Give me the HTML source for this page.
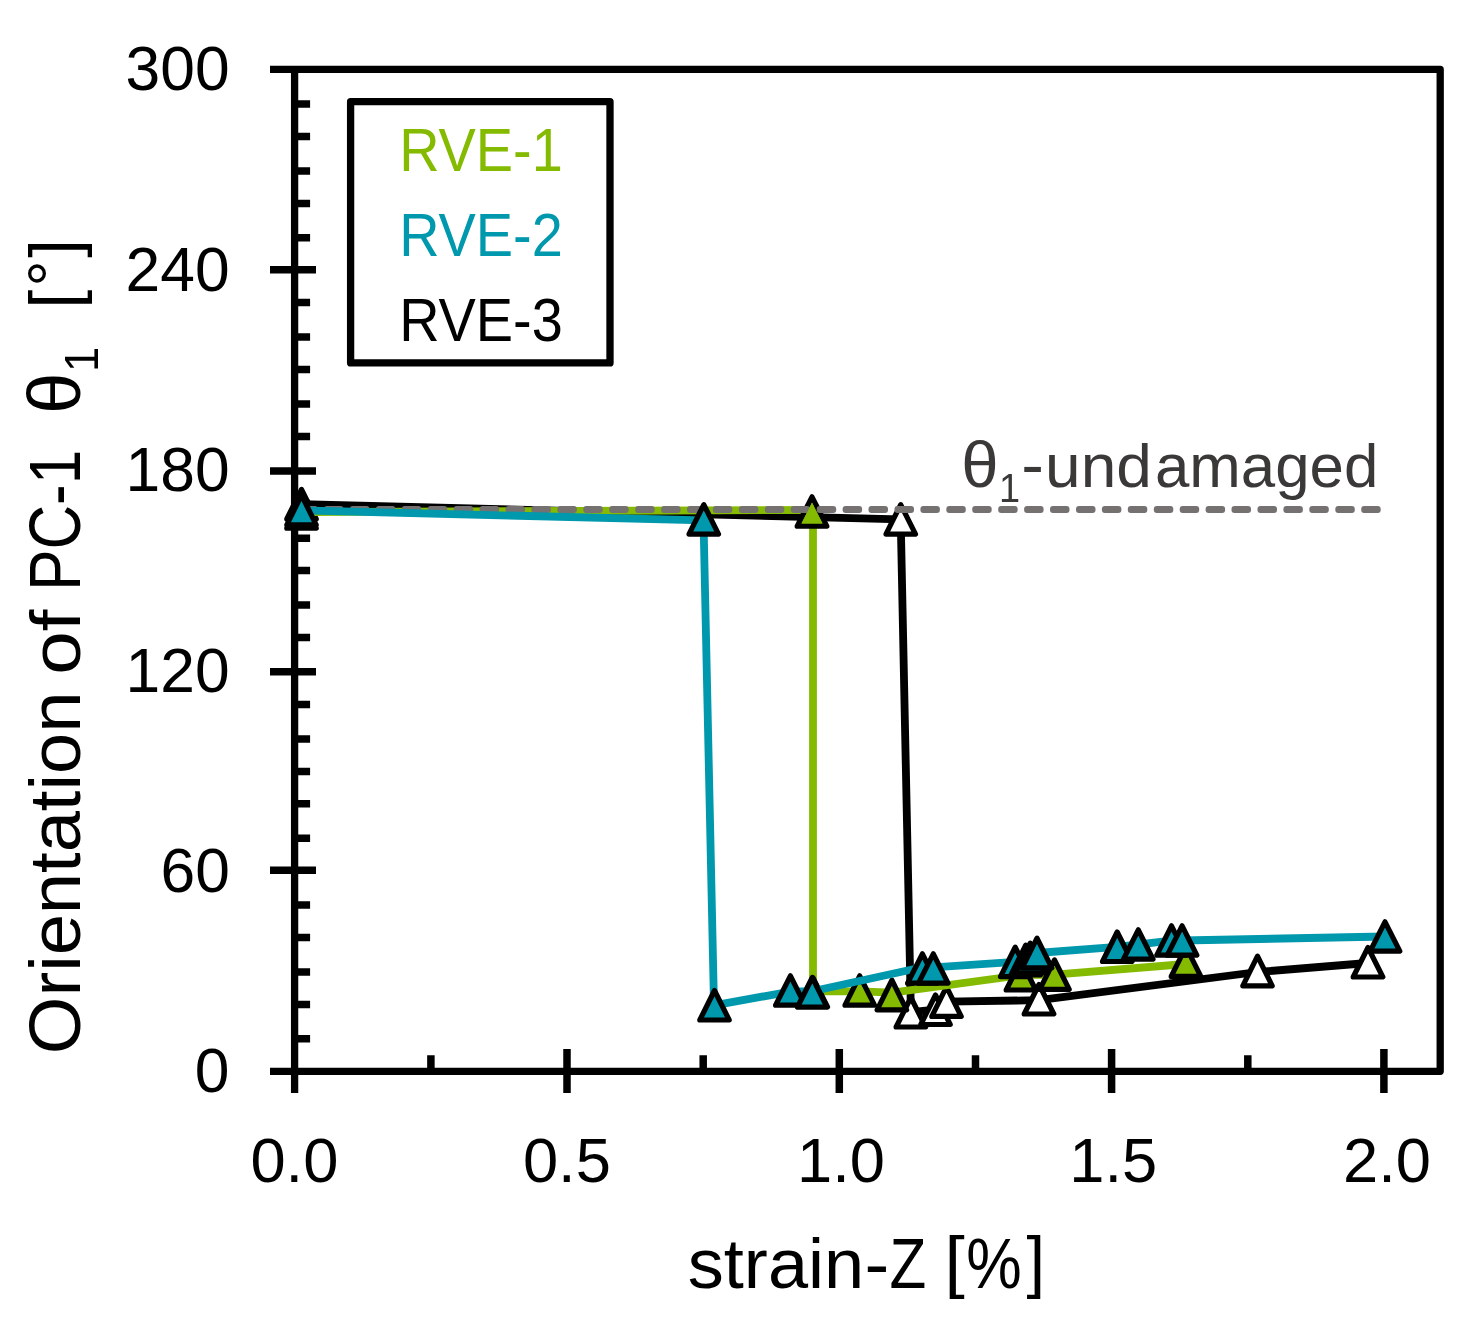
<!DOCTYPE html>
<html lang="en"><head><meta charset="utf-8"><title>Orientation of PC-1 vs strain-Z</title>
<style>html,body{margin:0;padding:0;background:#fff}svg{display:block}</style></head>
<body>
<svg width="1472" height="1323" viewBox="0 0 1472 1323" font-family='"Liberation Sans", sans-serif'>
<rect width="1472" height="1323" fill="#fff"/>
<path d="M270 69.4H1440.2V1071.3H270" fill="none" stroke="#000" stroke-width="7.3" stroke-linejoin="round"/>
<path d="M294.6 66V1093" fill="none" stroke="#000" stroke-width="7.3"/>
<path d="M294.7 1038.8H310.1M294.7 1004.4H310.1M294.7 971.9H310.1M294.7 937.6H310.1M294.7 904.9H310.1M270 870.3H316M294.7 838.3H310.1M294.7 803.8H310.1M294.7 771.4H310.1M294.7 738.9H310.1M294.7 704.5H310.1M270 671.8H316M294.7 637.4H310.1M294.7 605.0H310.1M294.7 570.5H310.1M294.7 538.3H310.1M294.7 503.5H310.1M270 470.9H316M294.7 436.4H310.1M294.7 403.9H310.1M294.7 369.4H310.1M294.7 336.9H310.1M294.7 302.5H310.1M270 269.8H316M294.7 237.7H310.1M294.7 203.5H310.1M294.7 170.9H310.1M294.7 136.5H310.1M294.7 103.9H310.1M430.9 1055.2V1071.4M567.0 1049V1093M703.2 1055.2V1071.4M839.3 1049V1093M975.5 1055.2V1071.4M1111.6 1049V1093M1247.8 1055.2V1071.4M1383.9 1049V1093" fill="none" stroke="#000" stroke-width="7.5"/>
<rect x="350.6" y="101.6" width="259.4" height="261.3" fill="#fff" stroke="#000" stroke-width="7.3" stroke-linejoin="round"/>
<path d="M301.5 504.1L900.7 519.4L910.9 1012.2L935.5 1009.7L946.5 1001.6L1039.0 1000.2L1257.5 972.0L1368.0 963.0" fill="none" stroke="#000" stroke-width="7.8" stroke-linejoin="round" stroke-linecap="round"/>
<path d="M301.5 489.4L316.2 518.9H286.8Z" fill="#fff" stroke="#000" stroke-width="5.2" stroke-linejoin="round"/>
<path d="M900.7 504.6L915.5 534.1H886.0Z" fill="#fff" stroke="#000" stroke-width="5.2" stroke-linejoin="round"/>
<path d="M910.9 997.5L925.6 1027.0H896.1Z" fill="#fff" stroke="#000" stroke-width="5.2" stroke-linejoin="round"/>
<path d="M935.5 995.0L950.2 1024.5H920.8Z" fill="#fff" stroke="#000" stroke-width="5.2" stroke-linejoin="round"/>
<path d="M946.5 986.9L961.2 1016.4H931.8Z" fill="#fff" stroke="#000" stroke-width="5.2" stroke-linejoin="round"/>
<path d="M1039.0 984.5L1053.8 1014.0H1024.2Z" fill="#fff" stroke="#000" stroke-width="5.2" stroke-linejoin="round"/>
<path d="M1257.5 956.2L1272.2 985.8H1242.8Z" fill="#fff" stroke="#000" stroke-width="5.2" stroke-linejoin="round"/>
<path d="M1368.0 947.5L1382.8 977.0H1353.2Z" fill="#fff" stroke="#000" stroke-width="5.2" stroke-linejoin="round"/>
<path d="M301.5 512.2L813.0 509.8L813.0 991.4L859.7 991.4L892.3 992.6L1021.0 975.2L1054.5 974.6L1186.0 964.0" fill="none" stroke="#84BB00" stroke-width="7.8" stroke-linejoin="round" stroke-linecap="round"/>
<path d="M301.5 498.8L316.2 528.2H286.8Z" fill="#84BB00" stroke="#000" stroke-width="5.2" stroke-linejoin="round"/>
<path d="M812.0 496.8L826.8 526.2H797.2Z" fill="#84BB00" stroke="#000" stroke-width="5.2" stroke-linejoin="round"/>
<path d="M812.8 977.5L827.5 1007.0H798.0Z" fill="#84BB00" stroke="#000" stroke-width="5.2" stroke-linejoin="round"/>
<path d="M859.7 975.8L874.5 1005.2H845.0Z" fill="#84BB00" stroke="#000" stroke-width="5.2" stroke-linejoin="round"/>
<path d="M891.9 980.2L906.6 1009.8H877.1Z" fill="#84BB00" stroke="#000" stroke-width="5.2" stroke-linejoin="round"/>
<path d="M1021.0 960.5L1035.8 990.0H1006.2Z" fill="#84BB00" stroke="#000" stroke-width="5.2" stroke-linejoin="round"/>
<path d="M1054.5 959.9L1069.2 989.4H1039.8Z" fill="#84BB00" stroke="#000" stroke-width="5.2" stroke-linejoin="round"/>
<path d="M1186.0 946.9L1200.8 976.4H1171.2Z" fill="#84BB00" stroke="#000" stroke-width="5.2" stroke-linejoin="round"/>
<rect x="298.1" y="506.0" width="19.5" height="7" rx="3" fill="#767171"/><rect x="324.0" y="506.0" width="19.5" height="7" rx="3" fill="#767171"/><rect x="349.9" y="506.0" width="19.5" height="7" rx="3" fill="#767171"/><rect x="375.9" y="506.0" width="19.5" height="7" rx="3" fill="#767171"/><rect x="401.8" y="506.0" width="19.5" height="7" rx="3" fill="#767171"/><rect x="427.7" y="506.0" width="19.5" height="7" rx="3" fill="#767171"/><rect x="453.7" y="506.0" width="19.5" height="7" rx="3" fill="#767171"/><rect x="479.6" y="506.0" width="19.5" height="7" rx="3" fill="#767171"/><rect x="505.5" y="506.0" width="19.5" height="7" rx="3" fill="#767171"/><rect x="531.4" y="506.0" width="19.5" height="7" rx="3" fill="#767171"/><rect x="557.4" y="506.0" width="19.5" height="7" rx="3" fill="#767171"/><rect x="583.3" y="506.0" width="19.5" height="7" rx="3" fill="#767171"/><rect x="609.2" y="506.0" width="19.5" height="7" rx="3" fill="#767171"/><rect x="635.2" y="506.0" width="19.5" height="7" rx="3" fill="#767171"/><rect x="661.1" y="506.0" width="19.5" height="7" rx="3" fill="#767171"/><rect x="687.0" y="506.0" width="19.5" height="7" rx="3" fill="#767171"/><rect x="712.9" y="506.0" width="19.5" height="7" rx="3" fill="#767171"/><rect x="738.9" y="506.0" width="19.5" height="7" rx="3" fill="#767171"/><rect x="764.8" y="506.0" width="19.5" height="7" rx="3" fill="#767171"/><rect x="790.7" y="506.0" width="19.5" height="7" rx="3" fill="#767171"/><rect x="816.7" y="506.0" width="19.5" height="7" rx="3" fill="#767171"/><rect x="842.6" y="506.0" width="19.5" height="7" rx="3" fill="#767171"/><rect x="868.5" y="506.0" width="19.5" height="7" rx="3" fill="#767171"/><rect x="894.5" y="506.0" width="19.5" height="7" rx="3" fill="#767171"/><rect x="920.4" y="506.0" width="19.5" height="7" rx="3" fill="#767171"/><rect x="946.3" y="506.0" width="19.5" height="7" rx="3" fill="#767171"/><rect x="972.2" y="506.0" width="19.5" height="7" rx="3" fill="#767171"/><rect x="998.2" y="506.0" width="19.5" height="7" rx="3" fill="#767171"/><rect x="1024.1" y="506.0" width="19.5" height="7" rx="3" fill="#767171"/><rect x="1050.0" y="506.0" width="19.5" height="7" rx="3" fill="#767171"/><rect x="1076.0" y="506.0" width="19.5" height="7" rx="3" fill="#767171"/><rect x="1101.9" y="506.0" width="19.5" height="7" rx="3" fill="#767171"/><rect x="1127.8" y="506.0" width="19.5" height="7" rx="3" fill="#767171"/><rect x="1153.8" y="506.0" width="19.5" height="7" rx="3" fill="#767171"/><rect x="1179.7" y="506.0" width="19.5" height="7" rx="3" fill="#767171"/><rect x="1205.6" y="506.0" width="19.5" height="7" rx="3" fill="#767171"/><rect x="1231.5" y="506.0" width="19.5" height="7" rx="3" fill="#767171"/><rect x="1257.5" y="506.0" width="19.5" height="7" rx="3" fill="#767171"/><rect x="1283.4" y="506.0" width="19.5" height="7" rx="3" fill="#767171"/><rect x="1309.3" y="506.0" width="19.5" height="7" rx="3" fill="#767171"/><rect x="1335.3" y="506.0" width="19.5" height="7" rx="3" fill="#767171"/><rect x="1361.2" y="506.0" width="19.5" height="7" rx="3" fill="#767171"/>
<path d="M812.0 502.6L822.5 523.6H801.5Z" fill="#84BB00"/>
<path d="M301.5 510.3L703.5 520.4L714.0 1005.3L790.4 991.6L812.3 991.2L922.4 967.3L933.3 967.3L1015.2 961.9L1025.7 960.0L1030.2 958.0L1037.0 953.0L1117.2 946.8L1138.3 944.5L1171.5 940.5L1182.1 940.5L1385.0 936.5" fill="none" stroke="#0098AD" stroke-width="7.8" stroke-linejoin="round" stroke-linecap="round"/>
<path d="M301.5 495.2L316.2 524.8H286.8Z" fill="#0098AD" stroke="#000" stroke-width="5.2" stroke-linejoin="round"/>
<path d="M703.8 504.6L718.5 534.1H689.0Z" fill="#0098AD" stroke="#000" stroke-width="5.2" stroke-linejoin="round"/>
<path d="M714.5 990.5L729.2 1020.0H699.8Z" fill="#0098AD" stroke="#000" stroke-width="5.2" stroke-linejoin="round"/>
<path d="M790.4 975.8L805.1 1005.2H775.6Z" fill="#0098AD" stroke="#000" stroke-width="5.2" stroke-linejoin="round"/>
<path d="M812.3 977.5L827.0 1007.0H797.5Z" fill="#0098AD" stroke="#000" stroke-width="5.2" stroke-linejoin="round"/>
<path d="M922.4 953.8L937.1 983.2H907.6Z" fill="#0098AD" stroke="#000" stroke-width="5.2" stroke-linejoin="round"/>
<path d="M933.3 953.8L948.0 983.2H918.5Z" fill="#0098AD" stroke="#000" stroke-width="5.2" stroke-linejoin="round"/>
<path d="M1015.2 947.1L1030.0 976.6H1000.5Z" fill="#0098AD" stroke="#000" stroke-width="5.2" stroke-linejoin="round"/>
<path d="M1025.7 945.2L1040.5 974.8H1011.0Z" fill="#0098AD" stroke="#000" stroke-width="5.2" stroke-linejoin="round"/>
<path d="M1030.2 943.2L1045.0 972.8H1015.5Z" fill="#0098AD" stroke="#000" stroke-width="5.2" stroke-linejoin="round"/>
<path d="M1037.0 938.2L1051.8 967.8H1022.2Z" fill="#0098AD" stroke="#000" stroke-width="5.2" stroke-linejoin="round"/>
<path d="M1117.2 932.0L1132.0 961.5H1102.5Z" fill="#0098AD" stroke="#000" stroke-width="5.2" stroke-linejoin="round"/>
<path d="M1138.3 929.8L1153.0 959.2H1123.5Z" fill="#0098AD" stroke="#000" stroke-width="5.2" stroke-linejoin="round"/>
<path d="M1171.5 925.8L1186.2 955.2H1156.8Z" fill="#0098AD" stroke="#000" stroke-width="5.2" stroke-linejoin="round"/>
<path d="M1182.1 925.8L1196.8 955.2H1167.3Z" fill="#0098AD" stroke="#000" stroke-width="5.2" stroke-linejoin="round"/>
<path d="M1385.0 921.8L1399.8 951.2H1370.2Z" fill="#0098AD" stroke="#000" stroke-width="5.2" stroke-linejoin="round"/>
<text transform="translate(125.60,90.46) scale(0.6239,0.6380)" font-size="100" fill="#000">300</text>
<text transform="translate(125.60,290.86) scale(0.6239,0.6380)" font-size="100" fill="#000">240</text>
<text transform="translate(125.60,491.26) scale(0.6239,0.6380)" font-size="100" fill="#000">180</text>
<text transform="translate(125.60,691.66) scale(0.6239,0.6380)" font-size="100" fill="#000">120</text>
<text transform="translate(160.54,892.06) scale(0.6239,0.6380)" font-size="100" fill="#000">60</text>
<text transform="translate(194.86,1092.46) scale(0.6239,0.6380)" font-size="100" fill="#000">0</text>
<text transform="translate(250.42,1182.17) scale(0.6328,0.6338)" font-size="100" fill="#000">0.0</text>
<text transform="translate(522.92,1182.17) scale(0.6328,0.6338)" font-size="100" fill="#000">0.5</text>
<text transform="translate(797.02,1182.17) scale(0.6328,0.6338)" font-size="100" fill="#000">1.0</text>
<text transform="translate(1069.22,1182.17) scale(0.6328,0.6338)" font-size="100" fill="#000">1.5</text>
<text transform="translate(1343.02,1182.17) scale(0.6328,0.6338)" font-size="100" fill="#000">2.0</text>
<text transform="translate(399.23,170.70) scale(0.5589,0.6186)" font-size="100" fill="#84BB00">RVE-1</text>
<text transform="translate(399.23,256.00) scale(0.5589,0.6186)" font-size="100" fill="#0098AD">RVE-2</text>
<text transform="translate(399.23,341.00) scale(0.5589,0.6186)" font-size="100" fill="#000">RVE-3</text>
<text transform="translate(961.14,487.05) scale(0.6717,0.6459)" font-size="100" fill="#3B3838">θ</text>
<text transform="translate(998.94,501.50) scale(0.3795,0.4130)" font-size="100" fill="#3B3838">1</text>
<text transform="translate(1021.28,487.15) scale(0.6800,0.6500)" font-size="100" fill="#3B3838">-</text>
<text transform="translate(1045.06,486.98) scale(0.6406,0.6167)" font-size="100" fill="#3B3838">und</text>
<text transform="translate(1154.93,486.98) scale(0.6182,0.6167)" font-size="100" fill="#3B3838">amaged</text>
<text transform="translate(687.73,1288.00) scale(0.7217,0.7072)" font-size="100" fill="#000">strain</text>
<text transform="translate(864.42,1288.00) scale(0.7440,0.7072)" font-size="100" fill="#000">-</text>
<text transform="translate(889.49,1288.00) scale(0.6018,0.7072)" font-size="100" fill="#000">Z</text>
<text transform="translate(944.39,1284.88) scale(0.7300,0.6915)" font-size="100" fill="#000">[</text>
<text transform="translate(966.13,1288.09) scale(0.6241,0.7070)" font-size="100" fill="#000">%</text>
<text transform="translate(1026.40,1284.88) scale(0.6667,0.6915)" font-size="100" fill="#000">]</text>
<text transform="translate(80.38,1054.17) rotate(-90) scale(0.7413,0.7239)" font-size="100" fill="#000">Orientation</text>
<text transform="translate(80.40,674.83) rotate(-90) scale(0.7825,0.6964)" font-size="100" fill="#000">of</text>
<text transform="translate(80.20,590.85) rotate(-90) scale(0.6186,0.7188)" font-size="100" fill="#000">PC-1</text>
<text transform="translate(80.37,413.68) rotate(-90) scale(0.7370,0.7324)" font-size="100" fill="#000">θ</text>
<text transform="translate(98.10,371.97) rotate(-90) scale(0.4523,0.4812)" font-size="100" fill="#000">1</text>
<text transform="translate(77.53,308.69) rotate(-90) scale(0.6850,0.6936)" font-size="100" fill="#000">[</text>
<text transform="translate(72.95,286.76) rotate(-90) scale(0.6607,0.6464)" font-size="100" fill="#000">°</text>
<text transform="translate(77.53,257.70) rotate(-90) scale(0.6619,0.6936)" font-size="100" fill="#000">]</text>
</svg>
</body></html>
